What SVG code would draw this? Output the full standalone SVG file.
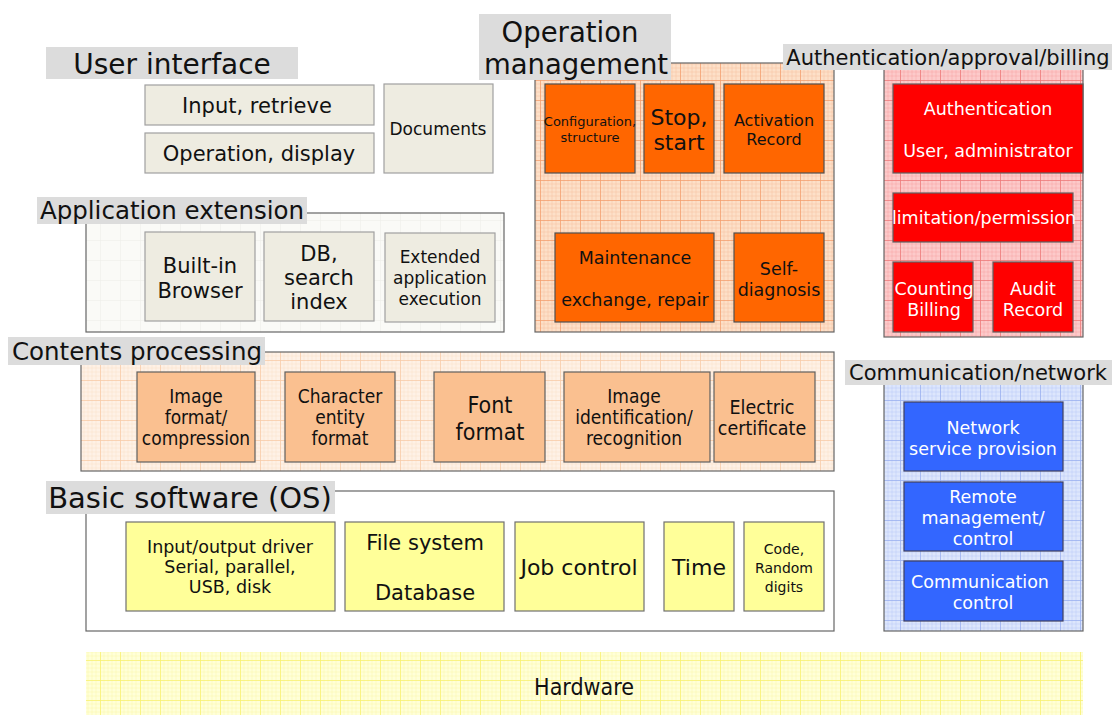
<svg xmlns="http://www.w3.org/2000/svg" width="1115" height="716" viewBox="0 0 1115 716">
<defs>
<pattern id="gOrange" width="20" height="20" patternUnits="userSpaceOnUse">
<rect width="20" height="20" fill="#fde0c8"/>
<path d="M0 4H20M0 8H20M0 12H20M0 16H20M4 0V20M8 0V20M12 0V20M16 0V20" stroke="#f7bc94" stroke-width="0.4"/>
<path d="M0 0.5H20M0.5 0V20" stroke="#f4a070" stroke-width="0.8"/>
</pattern>
<pattern id="gOrangeL" width="20" height="20" patternUnits="userSpaceOnUse">
<rect width="20" height="20" fill="#fef1e6"/>
<path d="M0 4H20M0 8H20M0 12H20M0 16H20M4 0V20M8 0V20M12 0V20M16 0V20" stroke="#fbdcc4" stroke-width="0.4"/>
<path d="M0 0.5H20M0.5 0V20" stroke="#f8cba8" stroke-width="0.8"/>
</pattern>
<pattern id="gRed" width="20" height="20" patternUnits="userSpaceOnUse">
<rect width="20" height="20" fill="#fccaca"/>
<path d="M0 4H20M0 8H20M0 12H20M0 16H20M4 0V20M8 0V20M12 0V20M16 0V20" stroke="#f59a9a" stroke-width="0.4"/>
<path d="M0 0.5H20M0.5 0V20" stroke="#ee7a7a" stroke-width="0.8"/>
</pattern>
<pattern id="gBlue" width="20" height="20" patternUnits="userSpaceOnUse">
<rect width="20" height="20" fill="#dde6fc"/>
<path d="M0 4H20M0 8H20M0 12H20M0 16H20M4 0V20M8 0V20M12 0V20M16 0V20" stroke="#b0c2f4" stroke-width="0.4"/>
<path d="M0 0.5H20M0.5 0V20" stroke="#9ab0f0" stroke-width="0.8"/>
</pattern>
<pattern id="gYellow" width="20" height="20" patternUnits="userSpaceOnUse">
<rect width="20" height="20" fill="#ffffd8"/>
<path d="M0 4H20M0 8H20M0 12H20M0 16H20M4 0V20M8 0V20M12 0V20M16 0V20" stroke="#fbf7a0" stroke-width="0.4"/>
<path d="M0 0.5H20M0.5 0V20" stroke="#f8f070" stroke-width="0.8"/>
</pattern>
<pattern id="gGray" width="20" height="20" patternUnits="userSpaceOnUse">
<rect width="20" height="20" fill="#fafaf7"/>
<path d="M0 0.5H20M0.5 0V20" stroke="#efefea" stroke-width="0.6"/>
</pattern>
</defs>
<style>
text{font-family:"DejaVu Sans","Noto Sans",sans-serif;fill:#111;text-anchor:middle}
.cond{font-family:"DejaVu Sans Condensed","Liberation Sans Narrow","DejaVu Sans",sans-serif;font-stretch:condensed}
.lbl{fill:#dcdcdc}
.cont{stroke:#666;stroke-width:1.2}
.beige{fill:#eeece1;stroke:#a0a0a0;stroke-width:1.2}
.peach{fill:#fac090;stroke:#606060;stroke-width:1.2}
.yel{fill:#ffff99;stroke:#707070;stroke-width:1.2}
.org{fill:#ff6600;stroke:#505050;stroke-width:1.2}
.red{fill:#ff0000;stroke:#606060;stroke-width:1.2}
.blu{fill:#3366ff;stroke:#404060;stroke-width:1.2}
.w{fill:#ffffff}
</style>

<!-- containers -->
<g id="containers">
<rect class="cont" x="86" y="213" width="418" height="119" fill="url(#gGray)"/>
<rect class="cont" x="81" y="352" width="753" height="119" fill="url(#gOrangeL)"/>
<rect class="cont" x="86" y="491" width="748" height="140" fill="#ffffff"/>
<rect x="86" y="652" width="997" height="63" fill="url(#gYellow)"/>
<rect class="cont" x="535" y="63" width="299" height="269" fill="url(#gOrange)"/>
<rect class="cont" x="884" y="60" width="199" height="277" fill="url(#gRed)"/>
<rect class="cont" x="884" y="370" width="199" height="261" fill="url(#gBlue)"/>
</g>

<!-- labels -->
<g id="labels">
<rect class="lbl" x="46" y="47" width="252" height="32"/>
<text x="172" y="74" font-size="28">User interface</text>
<rect class="lbl" x="37" y="197" width="270" height="27"/>
<text x="172" y="219" font-size="24.5">Application extension</text>
<rect class="lbl" x="8" y="337" width="257" height="28"/>
<text x="137" y="360" font-size="24.5">Contents processing</text>
<rect class="lbl" x="46" y="481" width="289" height="33"/>
<text x="190" y="508" font-size="29">Basic software (OS)</text>
<rect class="lbl" x="479" y="14" width="192" height="66"/>
<text x="570" y="42" font-size="27.5">Operation</text>
<text x="576" y="74" font-size="27.5">management</text>
<rect class="lbl" x="783" y="44" width="329" height="26"/>
<text x="948" y="65" font-size="21">Authentication/approval/billing</text>
<rect class="lbl" x="845" y="360" width="267" height="25"/>
<text x="978" y="380" font-size="21">Communication/network</text>
</g>

<!-- User interface -->
<g id="ui-input"><rect class="beige" x="145" y="85" width="229" height="40"/><text x="257" y="113" font-size="21">Input, retrieve</text></g>
<g id="ui-operation"><rect class="beige" x="145" y="133" width="229" height="40"/><text x="259" y="161" font-size="21">Operation, display</text></g>
<g id="ui-documents"><rect class="beige" x="384" y="84" width="109" height="89"/><text x="438" y="135" font-size="17">Documents</text></g>

<!-- Application extension -->
<g id="ae-browser"><rect class="beige" x="145" y="232" width="110" height="89"/><text x="200" y="273" font-size="21">Built-in</text><text x="200" y="298" font-size="21">Browser</text></g>
<g id="ae-db"><rect class="beige" x="264" y="232" width="110" height="89"/><text x="319" y="261" font-size="21">DB,</text><text x="319" y="285" font-size="21">search</text><text x="319" y="309" font-size="21">index</text></g>
<g id="ae-ext"><rect class="beige" x="385" y="233" width="110" height="89"/><text x="440" y="263" font-size="17">Extended</text><text x="440" y="284" font-size="17">application</text><text x="440" y="305" font-size="17">execution</text></g>

<!-- Contents processing -->
<g id="cp-image"><rect class="peach" x="137" y="372" width="118" height="90"/><text class="cond" x="196" y="403" font-size="19">Image</text><text class="cond" x="196" y="424" font-size="19">format/</text><text class="cond" x="196" y="445" font-size="19">compression</text></g>
<g id="cp-char"><rect class="peach" x="285" y="372" width="110" height="90"/><text class="cond" x="340" y="403" font-size="19">Character</text><text class="cond" x="340" y="424" font-size="19">entity</text><text class="cond" x="340" y="445" font-size="19">format</text></g>
<g id="cp-font"><rect class="peach" x="434" y="372" width="111" height="90"/><text class="cond" x="490" y="413" font-size="23">Font</text><text class="cond" x="490" y="440" font-size="23">format</text></g>
<g id="cp-ident"><rect class="peach" x="564" y="372" width="146" height="90"/><text class="cond" x="634" y="403" font-size="19">Image</text><text class="cond" x="634" y="424" font-size="19">identification/</text><text class="cond" x="634" y="445" font-size="19">recognition</text></g>
<g id="cp-cert"><rect class="peach" x="714" y="372" width="101" height="90"/><text class="cond" x="762" y="414" font-size="19.5">Electric</text><text class="cond" x="762" y="435" font-size="19.5">certificate</text></g>

<!-- Basic software -->
<g id="os-io"><rect class="yel" x="126" y="522" width="209" height="89"/><text x="230" y="553" font-size="17.5">Input/output driver</text><text x="230" y="573" font-size="17.5">Serial, parallel,</text><text x="230" y="593" font-size="17.5">USB, disk</text></g>
<g id="os-fs"><rect class="yel" x="345" y="522" width="159" height="89"/><text x="425" y="550" font-size="21">File system</text><text x="425" y="600" font-size="21">Database</text></g>
<g id="os-job"><rect class="yel" x="515" y="522" width="129" height="89"/><text x="579" y="575" font-size="22">Job control</text></g>
<g id="os-time"><rect class="yel" x="664" y="522" width="70" height="89"/><text x="699" y="575" font-size="22">Time</text></g>
<g id="os-code"><rect class="yel" x="744" y="522" width="80" height="89"/><text x="784" y="554" font-size="14">Code,</text><text x="784" y="573" font-size="14">Random</text><text x="784" y="592" font-size="14">digits</text></g>

<!-- Hardware -->
<g id="hardware"><text class="cond" x="584" y="695" font-size="23">Hardware</text></g>

<!-- Operation management -->
<g id="om-config"><rect class="org" x="545" y="84" width="90" height="89"/><text x="590" y="126" font-size="13">Configuration,</text><text x="590" y="142" font-size="13">structure</text></g>
<g id="om-stop"><rect class="org" x="644" y="84" width="70" height="89"/><text x="679" y="125" font-size="22">Stop,</text><text x="679" y="150" font-size="22">start</text></g>
<g id="om-activation"><rect class="org" x="724" y="84" width="100" height="89"/><text x="774" y="126" font-size="16">Activation</text><text x="774" y="145" font-size="16">Record</text></g>
<g id="om-maint"><rect class="org" x="555" y="233" width="159" height="89"/><text x="635" y="264" font-size="17.5">Maintenance</text><text x="635" y="306" font-size="17.5">exchange, repair</text></g>
<g id="om-self"><rect class="org" x="734" y="233" width="90" height="89"/><text x="779" y="275" font-size="17.5">Self-</text><text x="779" y="296" font-size="17.5">diagnosis</text></g>

<!-- Authentication -->
<g id="au-auth"><rect class="red" x="893" y="84" width="190" height="89"/><text class="w" x="988" y="115" font-size="17.5">Authentication</text><text class="w" x="988" y="157" font-size="17.5">User, administrator</text></g>
<g id="au-limit"><rect class="red" x="893" y="193" width="180" height="49"/><text class="w" x="984" y="224" font-size="17.5">limitation/permission</text></g>
<g id="au-count"><rect class="red" x="893" y="262" width="80" height="70"/><text class="w" x="934" y="295" font-size="17.5">Counting</text><text class="w" x="934" y="316" font-size="17.5">Billing</text></g>
<g id="au-audit"><rect class="red" x="993" y="262" width="80" height="70"/><text class="w" x="1033" y="295" font-size="17.5">Audit</text><text class="w" x="1033" y="316" font-size="17.5">Record</text></g>

<!-- Communication -->
<g id="cn-network"><rect class="blu" x="904" y="402" width="159" height="69"/><text class="w" x="983" y="434" font-size="17.5">Network</text><text class="w" x="983" y="455" font-size="17.5">service provision</text></g>
<g id="cn-remote"><rect class="blu" x="904" y="482" width="159" height="69"/><text class="w" x="983" y="503" font-size="17.5">Remote</text><text class="w" x="983" y="524" font-size="17.5">management/</text><text class="w" x="983" y="545" font-size="17.5">control</text></g>
<g id="cn-comm"><rect class="blu" x="904" y="561" width="159" height="60"/><text class="w" x="980" y="588" font-size="17.5">Communication</text><text class="w" x="983" y="609" font-size="17.5">control</text></g>

<g id="connectors"></g>
</svg>
